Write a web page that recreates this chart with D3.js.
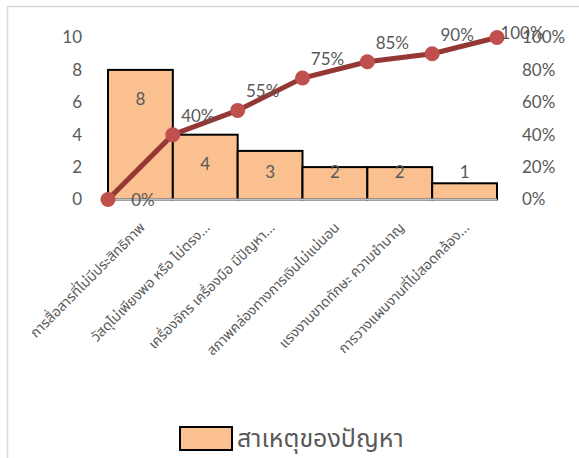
<!DOCTYPE html>
<html>
<head>
<meta charset="utf-8">
<script src="https://cdn.jsdelivr.net/npm/d3@7"></script>
<style>
  body { margin: 0; background: #fff; }
  svg text { font-family: Lato, "Noto Sans", sans-serif; }
  .thai { font-family: "Noto Sans Thai", "Noto Sans Thai UI", "Leelawadee UI", Tahoma, "Noto Sans", sans-serif; }
</style>
</head>
<body>
<div id="chart"></div>
<script>
var causes = [
    "การสื่อสารที่ไม่มีประสิทธิภาพ",
    "วัสดุไม่เพียงพอ หรือ ไม่ตรง...",
    "เครื่องจักร เครื่องมือ มีปัญหา...",
    "สภาพคล่องทางการเงินไม่แน่นอน",
    "แรงงานขาดทักษะ ความชำนาญ",
    "การวางแผนงานที่ไม่สอดคล้อง..."
];
var counts = [8, 4, 3, 2, 2, 1];
var cumPct = [0, 0.40, 0.55, 0.75, 0.85, 0.90, 1.00];
var leftTicks = [0, 2, 4, 6, 8, 10];
var rightTicks = [0, 0.2, 0.4, 0.6, 0.8, 1.0];
var legendLabel = "สาเหตุของปัญหา";

var width = 579, height = 458;
var plot = {left: 108, right: 497, top: 37.5, bottom: 199.5};

var svg = d3.select("#chart").append("svg")
    .attr("width", width)
    .attr("height", height);

// chart frame
svg.append("path")
    .attr("d", "M7.5," + height + "V6.5H" + width)
    .attr("fill", "none")
    .attr("stroke", "#d9d9d9")
    .attr("stroke-width", 1.5);

var x = d3.scaleBand().domain(causes).range([plot.left, plot.right]).padding(0);
var xLine = d3.scaleLinear().domain([0, causes.length]).range([plot.left, plot.right]);
var y = d3.scaleLinear().domain([0, 10]).range([plot.bottom, plot.top]);
var y2 = d3.scaleLinear().domain([0, 1]).range([plot.bottom, plot.top]);

// left axis
var gl = svg.append("g")
    .attr("transform", "translate(84,0)")
    .call(d3.axisLeft(y).tickValues(leftTicks).tickSize(0).tickPadding(2));
gl.select(".domain").remove();
gl.selectAll("text").attr("font-size", "17px").attr("fill", "#595959").style("font-family", "Lato, sans-serif");

// right axis
var gr = svg.append("g")
    .attr("transform", "translate(520,0)")
    .call(d3.axisRight(y2).tickValues(rightTicks).tickSize(0).tickPadding(2).tickFormat(d3.format(".0%")));
gr.select(".domain").remove();
gr.selectAll("text").attr("font-size", "17px").attr("fill", "#595959").style("font-family", "Lato, sans-serif");

// bars
svg.selectAll("rect.bar")
    .data(counts)
    .enter()
    .append("rect")
    .attr("class", "bar")
    .attr("x", function(d, i){ return x(causes[i]); })
    .attr("y", function(d){ return y(d); })
    .attr("width", x.bandwidth())
    .attr("height", function(d){ return y(0) - y(d); })
    .attr("fill", "#fac090")
    .attr("stroke", "#000")
    .attr("stroke-width", 2);

// baseline
svg.append("line")
    .attr("x1", plot.left).attr("x2", plot.right)
    .attr("y1", y(0)).attr("y2", y(0))
    .attr("stroke", "#bfbfbf")
    .attr("stroke-width", 2);

// bar labels
svg.selectAll("text.barlabel")
    .data(counts)
    .enter()
    .append("text")
    .attr("class", "barlabel")
    .attr("x", function(d, i){ return x(causes[i]) + x.bandwidth()/2; })
    .attr("y", function(d){ return Math.min(y(d) + 29, 172); })
    .attr("dy", "0.35em")
    .attr("text-anchor", "middle")
    .attr("font-size", "17px")
    .attr("fill", "#595959")
    .text(function(d){ return d; });

// cumulative line
var line = d3.line()
    .x(function(d, i){ return xLine(i); })
    .y(function(d){ return y2(d); });

svg.append("path")
    .datum(cumPct)
    .attr("d", line)
    .attr("fill", "none")
    .attr("stroke", "#953735")
    .attr("stroke-width", 5);

svg.selectAll("circle.pt")
    .data(cumPct)
    .enter()
    .append("circle")
    .attr("class", "pt")
    .attr("cx", function(d, i){ return xLine(i); })
    .attr("cy", function(d){ return y2(d); })
    .attr("r", 7.5)
    .attr("fill", "#c0504d");

svg.selectAll("text.pctlabel")
    .data(cumPct)
    .enter()
    .append("text")
    .attr("class", "pctlabel")
    .attr("x", function(d, i){ return xLine(i) + (i === 0 ? 35 : 25); })
    .attr("y", function(d){ return d === 0 ? y2(d) + 1 : Math.max(33, y2(d) - 19); })
    .attr("dy", "0.35em")
    .attr("text-anchor", "middle")
    .attr("font-size", "17px")
    .attr("fill", "#595959")
    .text(function(d){ return d3.format(".0%")(d); });

// category labels
svg.selectAll("text.cat")
    .data(causes)
    .enter()
    .append("text")
    .attr("class", "cat thai")
    .attr("transform", function(d){ return "translate(" + (x(d) + x.bandwidth()/2 + 2) + ",225) rotate(-45)"; })
    .attr("text-anchor", "end")
    .attr("dy", "0.35em")
    .attr("font-size", "14px")
    .attr("fill", "#595959")
    .text(function(d){ return d; });

// legend
var lg = svg.append("g").attr("transform", "translate(180,427)");
lg.append("rect")
    .attr("width", 52).attr("height", 23)
    .attr("fill", "#fac090")
    .attr("stroke", "#000")
    .attr("stroke-width", 2);
lg.append("text")
    .attr("class", "thai")
    .attr("x", 57)
    .attr("y", 11.5)
    .attr("dy", "0.35em")
    .attr("font-size", "25px")
    .attr("fill", "#595959")
    .text(legendLabel);
</script>
</body>
</html>
